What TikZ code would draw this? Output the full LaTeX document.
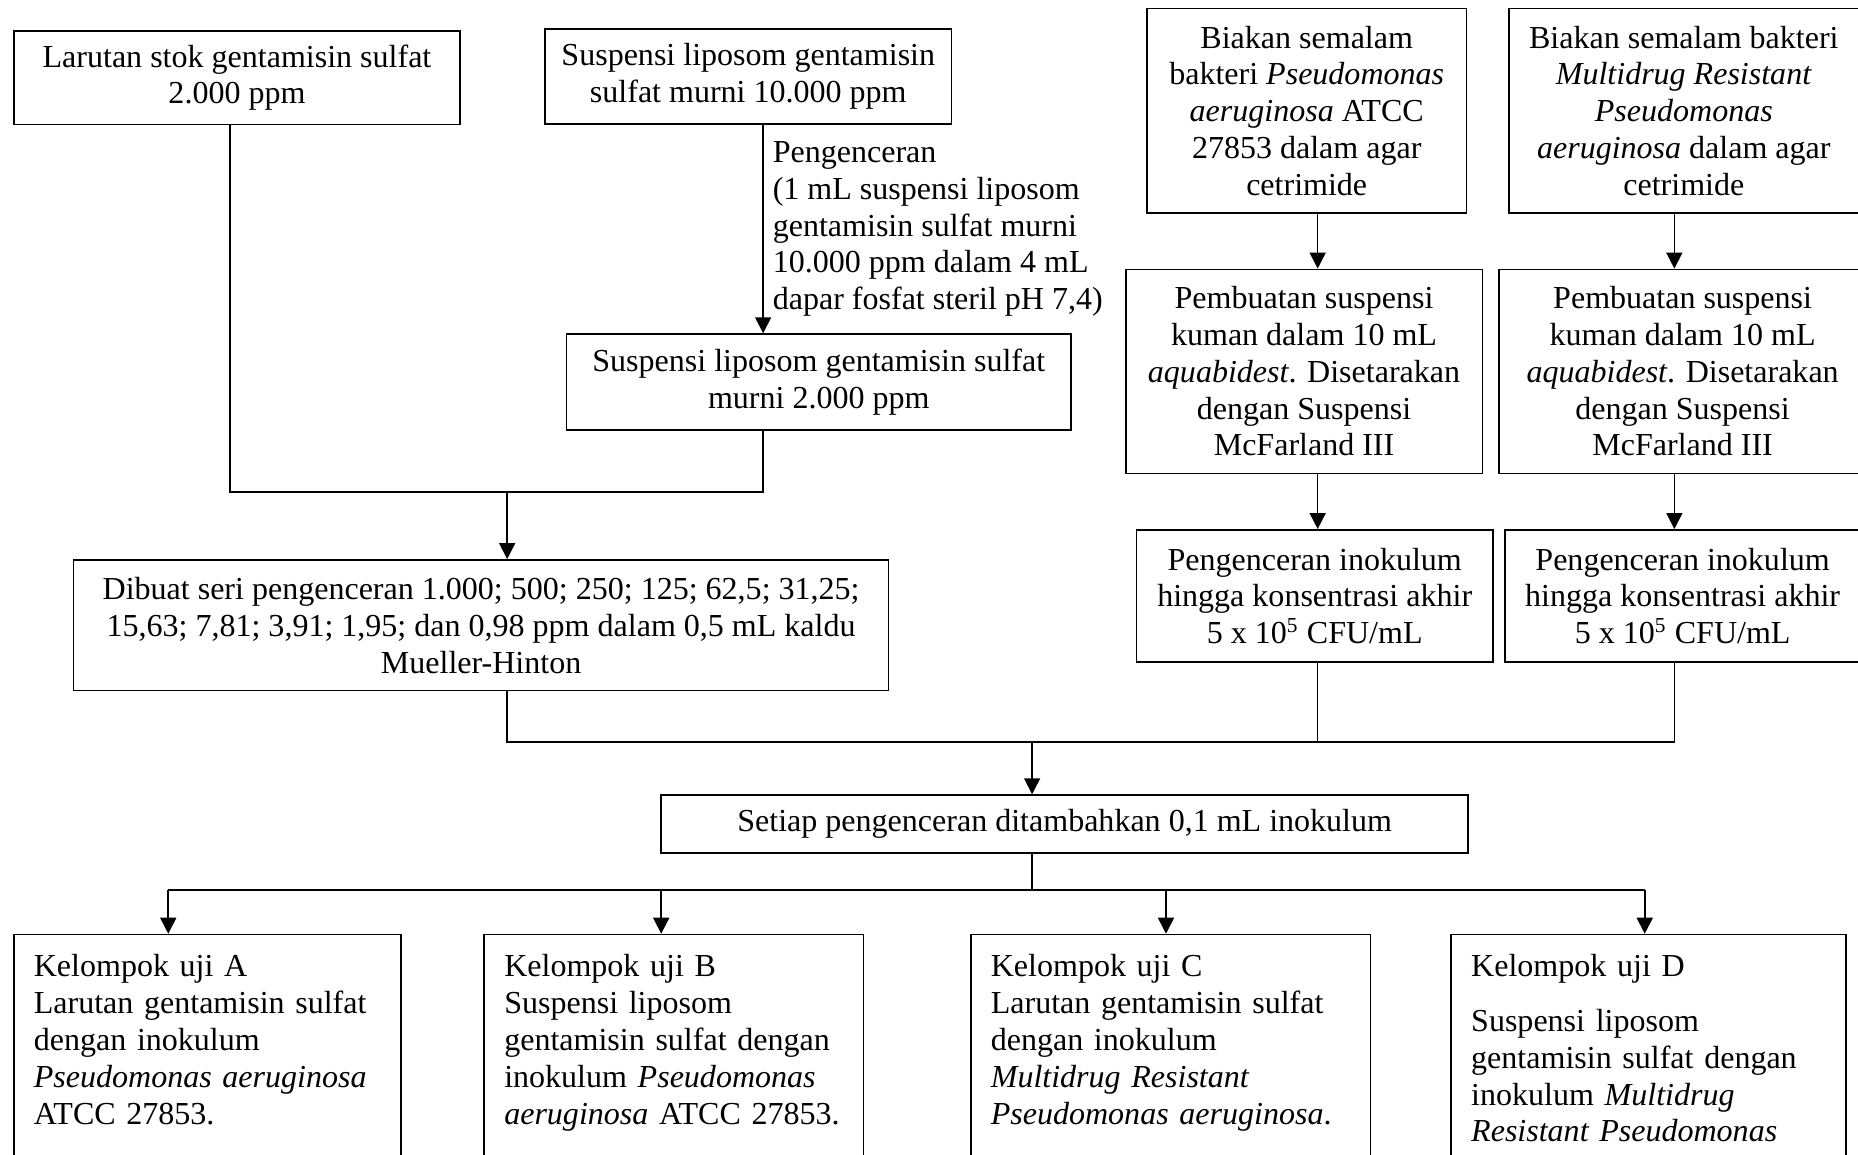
\documentclass[tikz,border=0pt]{standalone}
\usepackage{fontspec}
\setmainfont{Liberation Serif}
\usetikzlibrary{arrows.meta}

\begin{document}
\begin{tikzpicture}[x=0.444pt,y=-0.444pt,
  font=\fontsize{12pt}{13.8pt}\selectfont,
  line width=0.6pt,
  box/.style={draw,align=center,inner sep=2pt},
  grp/.style={draw,align=left,anchor=north west,inner sep=7.5pt,text depth=70pt},
  arr/.style={-{Triangle[length=6pt,width=6pt]}}]

\useasboundingbox (0,0) rectangle (1568,974);
\clip (0,0) rectangle (1568,974);

% gentamisin side
\node[box,minimum width=166.9pt,minimum height=35.1pt] (stok) at (200,65.5)
  {Larutan stok gentamisin sulfat\\2.000 ppm};
\node[box,minimum width=152.3pt,minimum height=35.5pt] (susp10) at (631.5,64.7)
  {Suspensi liposom gentamisin\\sulfat murni 10.000 ppm};
\node[box,minimum width=189pt,minimum height=36pt] (susp2) at (691,322.5)
  {Suspensi liposom gentamisin sulfat\\murni 2.000 ppm};
\node[box,minimum width=305.3pt,minimum height=49pt] (seri) at (406,527.7)
  {Dibuat seri pengenceran 1.000; 500; 250; 125; 62,5; 31,25;\\
   15,63; 7,81; 3,91; 1,95; dan 0,98 ppm dalam 0,5 mL kaldu\\
   Mueller-Hinton};

% bacteria side
\node[box,minimum width=119.7pt,minimum height=76.8pt] (biakA) at (1102.75,93.5)
  {Biakan semalam\\bakteri \textit{Pseudomonas}\\\textit{aeruginosa} ATCC\\
   27853 dalam agar\\cetrimide};
\node[box,minimum width=131pt,minimum height=76.8pt] (biakB) at (1421,93.5)
  {Biakan semalam bakteri\\\textit{Multidrug Resistant}\\\textit{Pseudomonas}\\
   \textit{aeruginosa} dalam agar\\cetrimide};
\node[box,minimum width=133.6pt,minimum height=76.4pt] (pembA) at (1100.5,313.4)
  {Pembuatan suspensi\\kuman dalam 10 mL\\\textit{aquabidest}. Disetarakan\\
   dengan Suspensi\\McFarland III};
\node[box,minimum width=137.6pt,minimum height=76.4pt] (pembB) at (1420,313.4)
  {Pembuatan suspensi\\kuman dalam 10 mL\\\textit{aquabidest}. Disetarakan\\
   dengan Suspensi\\McFarland III};
\node[box,minimum width=133.6pt,minimum height=49.6pt] (pengA) at (1109.5,503)
  {Pengenceran inokulum\\hingga konsentrasi akhir\\5 x 10\textsuperscript{5} CFU/mL};
\node[box,minimum width=133.2pt,minimum height=49.6pt] (pengB) at (1420,503)
  {Pengenceran inokulum\\hingga konsentrasi akhir\\5 x 10\textsuperscript{5} CFU/mL};

\node[box,minimum width=302.4pt,minimum height=21.6pt] (setiap) at (898.5,695.3)
  {Setiap pengenceran ditambahkan 0,1 mL inokulum};

% test groups
\node[grp,text width=130pt] (gA) at (11,788)
  {Kelompok uji A\\Larutan gentamisin sulfat\\dengan inokulum\\
   \textit{Pseudomonas aeruginosa}\\ATCC 27853.};
\node[grp,text width=127.1pt] (gB) at (408,788)
  {Kelompok uji B\\Suspensi liposom\\gentamisin sulfat dengan\\
   inokulum \textit{Pseudomonas}\\\textit{aeruginosa} ATCC 27853.};
\node[grp,text width=134.8pt] (gC) at (818.6,788)
  {Kelompok uji C\\Larutan gentamisin sulfat\\dengan inokulum\\
   \textit{Multidrug Resistant}\\\textit{Pseudomonas aeruginosa}.};
\node[grp,text width=132.9pt] (gD) at (1224,788)
  {Kelompok uji D\\[6.7pt]Suspensi liposom\\gentamisin sulfat dengan\\
   inokulum \textit{Multidrug}\\\textit{Resistant Pseudomonas}};

\coordinate (lar) at (194,415);
\coordinate (mix) at (428,415);
\coordinate (lipo) at (644,415);
\coordinate (pa) at (1112,626);
\coordinate (pb) at (1413,626);
\coordinate (join) at (871,626);
\coordinate (split) at (871,751);

\draw[arr] (susp10.south -| lipo) -- node[right,align=left]
  {Pengenceran\\(1 mL suspensi liposom\\gentamisin sulfat murni\\
   10.000 ppm dalam 4 mL\\dapar fosfat steril pH 7,4)} (susp2.north -| lipo);
\draw (stok.south -| lar) -- (lar) -- (lipo) -- (susp2.south -| lipo);
\draw[arr] (mix) -- (seri.north -| mix);

\draw[arr] (biakA.south -| pa) -- (pembA.north -| pa);
\draw[arr] (biakB.south -| pb) -- (pembB.north -| pb);
\draw[arr] (pembA.south -| pa) -- (pengA.north -| pa);
\draw[arr] (pembB.south -| pb) -- (pengB.north -| pb);

\draw (seri.south -| mix) |- (pb) -- (pengB.south -| pb);
\draw (pengA.south -| pa) -- (pa);
\draw[arr] (join) -- (setiap.north -| join);

\draw (setiap.south -| split) -- (split);
\foreach \g/\x in {A/142,B/558,C/984,D/1388} {
  \coordinate (t\g) at (\x,751);
  \draw[arr] (t\g) -- (g\g.north -| t\g);
}
\draw (tA) -- (tD);

\end{tikzpicture}
\end{document}
